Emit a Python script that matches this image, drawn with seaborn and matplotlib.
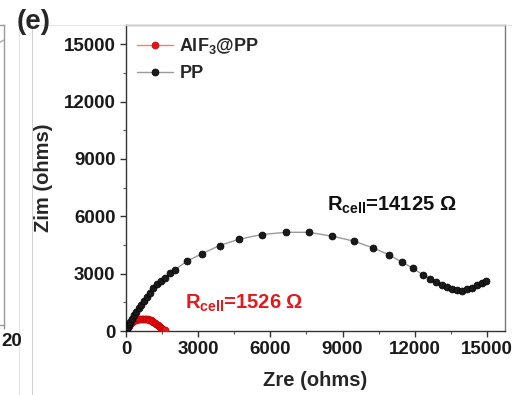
import matplotlib
matplotlib.use("Agg")
import matplotlib.pyplot as plt
import seaborn as sns
import pandas as pd
from matplotlib.lines import Line2D
from matplotlib.ticker import MultipleLocator

# Nyquist data (ohms)
pp_zre = [0, 30, 70, 120, 180, 250, 330, 420, 520, 630, 750, 870, 997, 1140,
          1302, 1460, 1620, 1820, 2036, 2548, 3165, 3890, 4708, 5650, 6634,
          7600, 8572, 9458, 10276, 10918, 11480, 11936, 12325, 12630, 12879,
          13115, 13323, 13531, 13739, 13947, 14155, 14363, 14571, 14779, 14957]
pp_zim = [0, 90, 210, 340, 490, 650, 820, 1000, 1190, 1380, 1580, 1780, 1990,
          2230, 2448, 2630, 2796, 3010, 3211, 3663, 4045, 4470, 4800, 5045,
          5160, 5160, 4956, 4704, 4340, 3990, 3600, 3268, 2950, 2744, 2569,
          2420, 2290, 2170, 2120, 2100, 2170, 2260, 2396, 2517, 2615]

alf_zre = [0, 20, 45, 75, 110, 150, 195, 245, 300, 360, 420, 480, 540, 600,
           660, 720, 780, 840, 900, 960, 1020, 1080, 1140, 1200, 1260, 1320,
           1380, 1430, 1470, 1510, 1545, 1575, 1605]
alf_zim = [0, 70, 140, 210, 280, 345, 405, 460, 510, 550, 580, 605, 622, 632,
           638, 640, 636, 625, 610, 588, 560, 525, 485, 438, 385, 325, 260,
           200, 150, 100, 65, 42, 35]

series_labels = ["AlF$_3$@PP", "PP"]
x_ticks = [0, 3000, 6000, 9000, 12000, 15000]
y_ticks = [0, 3000, 6000, 9000, 12000, 15000]
r_pp = 14125
r_alf = 1526

sns.set_style("ticks")
plt.rcParams["font.family"] = ["Liberation Sans", "DejaVu Sans"]
plt.rcParams["font.weight"] = "bold"
plt.rcParams["mathtext.fontset"] = "custom"
plt.rcParams["mathtext.rm"] = "Liberation Sans:bold"
plt.rcParams["mathtext.it"] = "Liberation Sans:bold"
plt.rcParams["mathtext.bf"] = "Liberation Sans:bold"

fig = plt.figure(figsize=(5.12, 3.95), dpi=100)
fig.patch.set_facecolor("white")

# main axes
ax = fig.add_axes([126 / 512, 64 / 395, 379 / 512, 306 / 395])

pp_df = pd.DataFrame({"Zre": pp_zre, "Zim": pp_zim})
alf_df = pd.DataFrame({"Zre": alf_zre, "Zim": alf_zim})

sns.lineplot(data=alf_df, x="Zre", y="Zim", sort=False, estimator=None,
             color="#f08080", linewidth=1.0, marker="o", markersize=5,
             markerfacecolor="#e8121b", markeredgecolor="#c00000",
             markeredgewidth=0.5, label=series_labels[0], ax=ax, zorder=3)
sns.lineplot(data=pp_df, x="Zre", y="Zim", sort=False, estimator=None,
             color="#9a9a9a", linewidth=1.0, marker="o", markersize=5.0,
             markerfacecolor="#1a1a1a", markeredgecolor="#000000",
             markeredgewidth=0.5, label=series_labels[1], ax=ax, zorder=3)

ax.set_xlim(0, 15750)
ax.set_ylim(0, 16000)
ax.set_xticks(x_ticks)
ax.set_yticks(y_ticks)
ax.xaxis.set_minor_locator(MultipleLocator(1500))
ax.yaxis.set_minor_locator(MultipleLocator(1500))
ax.tick_params(which="major", direction="out", length=4.5, width=1.0,
               labelsize=13.5, pad=3, colors="#333333", labelcolor="#1a1a1a")
ax.tick_params(which="minor", direction="out", length=2.5, width=0.8,
               colors="#555555")
for lab in ax.get_xticklabels() + ax.get_yticklabels():
    lab.set_fontweight("bold")
for s in ax.spines.values():
    s.set_visible(True)
    s.set_color("#7a7a7a")
    s.set_linewidth(1.0)
ax.spines["left"].set_color("#333333")
ax.spines["bottom"].set_color("#333333")

ax.set_xlabel("Zre (ohms)", fontsize=14.5, fontweight="bold", labelpad=9)
ax.set_ylabel("Zim (ohms)", fontsize=14.5, fontweight="bold", labelpad=8)

leg = ax.legend(loc="upper left", frameon=False, fontsize=13,
                handlelength=2.0, handletextpad=0.35, labelspacing=0.5,
                borderaxespad=0.2, bbox_to_anchor=(0.0, 1.0))
for t in leg.get_texts():
    t.set_fontweight("bold")

ax.text(8350, 6560, f"R$_{{cell}}$={r_pp} Ω", fontsize=14.5,
        fontweight="bold", color="#111111", ha="left", va="center")
ax.text(2450, 1450, f"R$_{{cell}}$={r_alf} Ω", fontsize=14.5,
        fontweight="bold", color="#e31a1c", ha="left", va="center")

# panel letter
fig.text(17 / 512, 1 - 22 / 395, "(e)", fontsize=20, fontweight="bold",
         ha="left", va="center")

# neighbouring panel edge on the left
ax0 = fig.add_axes([-0.3, 70 / 395, 0.3 + 4 / 512, 300 / 395])
ax0.set_xlim(0, 20)
ax0.set_ylim(0, 1)
ax0.set_xticks([20])
ax0.set_xticklabels([])
ax0.set_yticks([])
ax0.tick_params(axis="x", length=3, colors="#888888")
for name, s in ax0.spines.items():
    s.set_color("#9a9a9a")
    s.set_linewidth(1.0)
ax0.plot([14, 20], [0.86, 0.95], color="#aaaaaa", lw=1.0)
fig.text(1 / 512, 1 - 341 / 395, "20", fontsize=13.5, fontweight="bold",
         ha="left", va="center", color="#1a1a1a")
fig.add_artist(Line2D([19 / 512, 19 / 512], [0, 1 - 25 / 395],
                      color="#e4e4e4", lw=0.8))
fig.add_artist(Line2D([32 / 512, 32 / 512], [0, 1 - 25 / 395],
                      color="#d0d0d0", lw=0.8))
fig.add_artist(Line2D([32 / 512, 1], [1 - 25 / 395, 1 - 25 / 395],
                      color="#e0e0e0", lw=0.6))

fig.savefig("out.png", dpi=100, facecolor="white")
